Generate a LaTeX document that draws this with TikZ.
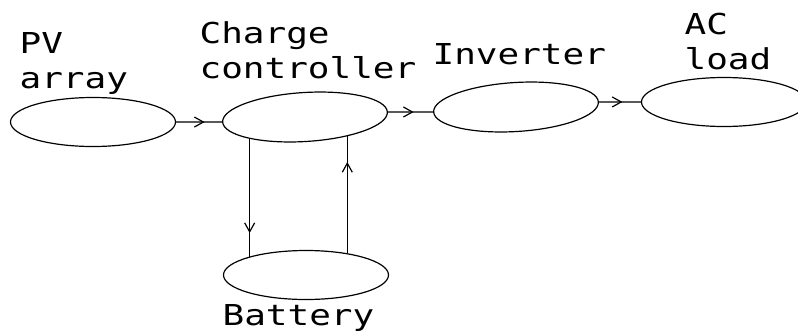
\documentclass[tikz,border=0pt]{standalone}
\usepackage{fontspec}
\newfontfamily\cadfont[FakeStretch=1.25]{DejaVu Sans Mono}
\usetikzlibrary{shapes.geometric, arrows.meta, decorations.markings}

\tikzset{
  unit/.style={draw, ellipse, minimum width=165pt, minimum height=49pt, inner sep=0pt},
  caption/.style={align=left, anchor=north west, inner sep=0pt,
    font=\cadfont\fontsize{28.8}{35}\selectfont},
  flow/.style={decoration={markings, mark=at position #1 with
    {\arrow{Straight Barb[length=9pt, width=10pt]}}}, postaction={decorate}}
}

\begin{document}
\begin{tikzpicture}[x=1pt, y=-1pt, line width=1.2pt]
    \clip (0,0) rectangle (798,333);

    % Blocks
    \node[unit] (pv) at (93,122) {};
    \node[unit, rotate=3.5] (cc) at (305,117) {};
    \node[unit, rotate=3.5] (inv) at (516,107) {};
    \node[unit] (load) at (724,102) {};
    \node[unit] (bat) at (306,275) {};

    % Block names
    \node[caption] (pvname) at (19,32) {PV\\array};
    \node[caption] (ccname) at (199,21) {Charge\\controller};
    \node[caption] (invname) at (432,43) {Inverter};
    \node[caption] (loadname) at (684,13) {AC\\load};
    \node[caption] (batname) at (222,304) {Battery};

    % Power flow
    \draw[flow=0.62] (pv.east) -- (cc.west);
    \draw[flow=0.57] (cc.east) -- (inv.west);
    \draw[flow=0.56] (inv.east) -- (load.west);

    % Charging and discharging
    \draw[flow=0.8] (cc.-162) -- (cc.-162 |- bat.162);
    \draw[flow=0.78] (cc.-28 |- bat.28) -- (cc.-28);

\end{tikzpicture}
\end{document}
